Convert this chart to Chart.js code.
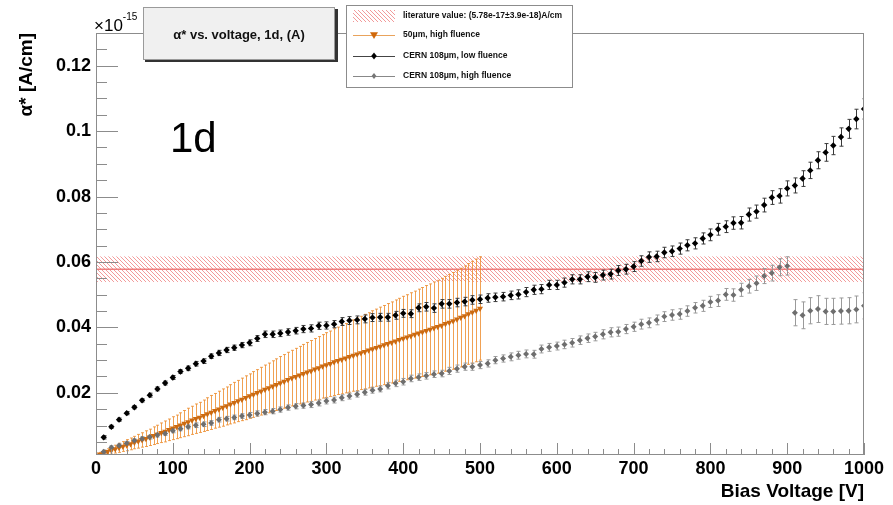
<!DOCTYPE html>
<html>
<head>
<meta charset="utf-8">
<script src="https://cdn.jsdelivr.net/npm/chart.js@4.4.0/dist/chart.umd.min.js"></script>
<style>
  html, body { margin: 0; padding: 0; background: #fff; }
  #wrap { width: 893px; height: 505px; }
</style>
</head>
<body>
<div id="wrap"><canvas id="alphaChart" width="893" height="505"></canvas></div>
<script>
// bias voltage points of the two CERN 108um sensors
const voltage = [10, 20, 30, 40, 50, 60, 70, 80, 90, 100,
  110, 120, 130, 140, 150, 160, 170, 180, 190, 200,
  210, 220, 230, 240, 250, 260, 270, 280, 290, 300,
  310, 320, 330, 340, 350, 360, 370, 380, 390, 400,
  410, 420, 430, 440, 450, 460, 470, 480, 490, 500,
  510, 520, 530, 540, 550, 560, 570, 580, 590, 600,
  610, 620, 630, 640, 650, 660, 670, 680, 690, 700,
  710, 720, 730, 740, 750, 760, 770, 780, 790, 800,
  810, 820, 830, 840, 850, 860, 870, 880, 890, 900,
  910, 920, 930, 940, 950, 960, 970, 980, 990, 1000];

// alpha* in units of 1e-15 A/cm
const lowFluence = [0.0064, 0.0096, 0.0118, 0.0138, 0.0156, 0.0177, 0.0193, 0.0212, 0.0230, 0.0247,
  0.0265, 0.0275, 0.0289, 0.0297, 0.0312, 0.0322, 0.0331, 0.0338, 0.0346, 0.0353,
  0.0366, 0.0379, 0.0379, 0.0382, 0.0386, 0.0390, 0.0395, 0.0397, 0.0405, 0.0406,
  0.0410, 0.0418, 0.0421, 0.0423, 0.0426, 0.0430, 0.0431, 0.0431, 0.0437, 0.0443,
  0.0442, 0.0460, 0.0463, 0.0459, 0.0472, 0.0472, 0.0476, 0.0479, 0.0484, 0.0486,
  0.0490, 0.0492, 0.0494, 0.0498, 0.0501, 0.0508, 0.0515, 0.0517, 0.0530, 0.0530,
  0.0537, 0.0547, 0.0547, 0.0555, 0.0553, 0.0560, 0.0563, 0.0574, 0.0578, 0.0586,
  0.0603, 0.0615, 0.0617, 0.0629, 0.0633, 0.0641, 0.0651, 0.0657, 0.0672, 0.0683,
  0.0700, 0.0708, 0.0719, 0.0720, 0.0745, 0.0754, 0.0774, 0.0797, 0.0802, 0.0825,
  0.0834, 0.0855, 0.0880, 0.0911, 0.0935, 0.0956, 0.0982, 0.1007, 0.1037, 0.1068];
const lowFluenceErr = [0.0005, 0.0005, 0.0005, 0.0005, 0.0005, 0.0005, 0.0006, 0.0006, 0.0006, 0.0006,
  0.0006, 0.0007, 0.0007, 0.0007, 0.0007, 0.0008, 0.0008, 0.0008, 0.0008, 0.0009,
  0.0009, 0.0010, 0.0010, 0.0010, 0.0010, 0.0010, 0.0011, 0.0011, 0.0011, 0.0011,
  0.0011, 0.0012, 0.0012, 0.0012, 0.0012, 0.0012, 0.0012, 0.0012, 0.0012, 0.0012,
  0.0012, 0.0012, 0.0013, 0.0013, 0.0013, 0.0013, 0.0013, 0.0013, 0.0013, 0.0013,
  0.0013, 0.0013, 0.0013, 0.0013, 0.0014, 0.0014, 0.0014, 0.0014, 0.0014, 0.0014,
  0.0014, 0.0014, 0.0014, 0.0015, 0.0015, 0.0015, 0.0015, 0.0015, 0.0015, 0.0015,
  0.0016, 0.0016, 0.0016, 0.0016, 0.0016, 0.0017, 0.0017, 0.0017, 0.0017, 0.0018,
  0.0018, 0.0018, 0.0019, 0.0019, 0.0020, 0.0020, 0.0021, 0.0021, 0.0022, 0.0023,
  0.0023, 0.0024, 0.0025, 0.0026, 0.0027, 0.0028, 0.0028, 0.0029, 0.0030, 0.0031];

const highFluence = [0.0020, 0.0033, 0.0039, 0.0046, 0.0054, 0.0060, 0.0065, 0.0071, 0.0076, 0.0084,
  0.0090, 0.0096, 0.0101, 0.0104, 0.0108, 0.0118, 0.0121, 0.0125, 0.0129, 0.0132,
  0.0137, 0.0141, 0.0144, 0.0149, 0.0155, 0.0159, 0.0161, 0.0164, 0.0169, 0.0175,
  0.0178, 0.0185, 0.0190, 0.0196, 0.0202, 0.0208, 0.0212, 0.0222, 0.0229, 0.0234,
  0.0244, 0.0248, 0.0252, 0.0257, 0.0259, 0.0267, 0.0274, 0.0280, 0.0280, 0.0285,
  0.0290, 0.0300, 0.0305, 0.0310, 0.0315, 0.0319, 0.0318, 0.0334, 0.0339, 0.0343,
  0.0348, 0.0353, 0.0361, 0.0367, 0.0372, 0.0379, 0.0385, 0.0387, 0.0395, 0.0402,
  0.0410, 0.0414, 0.0423, 0.0433, 0.0438, 0.0441, 0.0450, 0.0460, 0.0466, 0.0478,
  0.0482, 0.0501, 0.0499, 0.0515, 0.0526, 0.0535, 0.0557, 0.0566, 0.0584, 0.0588,
  0.0445, 0.0437, 0.0451, 0.0456, 0.0449, 0.0449, 0.0450, 0.0451, 0.0455, 0.0466];
const highFluenceErr = [0.0005, 0.0005, 0.0005, 0.0005, 0.0005, 0.0006, 0.0006, 0.0006, 0.0006, 0.0006,
  0.0006, 0.0006, 0.0007, 0.0007, 0.0007, 0.0007, 0.0007, 0.0007, 0.0007, 0.0008,
  0.0008, 0.0008, 0.0008, 0.0008, 0.0008, 0.0008, 0.0008, 0.0009, 0.0009, 0.0009,
  0.0009, 0.0009, 0.0009, 0.0009, 0.0009, 0.0009, 0.0009, 0.0010, 0.0010, 0.0010,
  0.0010, 0.0010, 0.0010, 0.0010, 0.0010, 0.0011, 0.0011, 0.0011, 0.0011, 0.0011,
  0.0011, 0.0011, 0.0011, 0.0012, 0.0012, 0.0012, 0.0012, 0.0012, 0.0012, 0.0012,
  0.0013, 0.0013, 0.0013, 0.0013, 0.0013, 0.0014, 0.0014, 0.0014, 0.0014, 0.0014,
  0.0015, 0.0015, 0.0015, 0.0015, 0.0016, 0.0016, 0.0016, 0.0016, 0.0017, 0.0017,
  0.0018, 0.0018, 0.0019, 0.0020, 0.0021, 0.0022, 0.0023, 0.0024, 0.0026, 0.0028,
  0.0040, 0.0041, 0.0040, 0.0041, 0.0040, 0.0040, 0.0040, 0.0040, 0.0041, 0.0040];

// 50um sensor, 5 V steps up to 500 V
const voltage50 = [5, 10, 15, 20, 25, 30, 35, 40, 45, 50,
  55, 60, 65, 70, 75, 80, 85, 90, 95, 100,
  105, 110, 115, 120, 125, 130, 135, 140, 145, 150,
  155, 160, 165, 170, 175, 180, 185, 190, 195, 200,
  205, 210, 215, 220, 225, 230, 235, 240, 245, 250,
  255, 260, 265, 270, 275, 280, 285, 290, 295, 300,
  305, 310, 315, 320, 325, 330, 335, 340, 345, 350,
  355, 360, 365, 370, 375, 380, 385, 390, 395, 400,
  405, 410, 415, 420, 425, 430, 435, 440, 445, 450,
  455, 460, 465, 470, 475, 480, 485, 490, 495, 500];
const thin50 = [0.0012, 0.0016, 0.0020, 0.0024, 0.0028, 0.0032, 0.0036, 0.0040, 0.0044, 0.0048,
  0.0052, 0.0056, 0.0060, 0.0064, 0.0069, 0.0073, 0.0078, 0.0082, 0.0087, 0.0092,
  0.0096, 0.0101, 0.0106, 0.0111, 0.0116, 0.0121, 0.0125, 0.0130, 0.0135, 0.0140,
  0.0145, 0.0150, 0.0155, 0.0160, 0.0165, 0.0170, 0.0175, 0.0180, 0.0185, 0.0190,
  0.0195, 0.0200, 0.0205, 0.0210, 0.0215, 0.0220, 0.0225, 0.0230, 0.0235, 0.0240,
  0.0245, 0.0249, 0.0254, 0.0258, 0.0263, 0.0267, 0.0272, 0.0276, 0.0281, 0.0285,
  0.0289, 0.0294, 0.0298, 0.0302, 0.0306, 0.0310, 0.0314, 0.0318, 0.0322, 0.0326,
  0.0330, 0.0334, 0.0338, 0.0342, 0.0346, 0.0350, 0.0354, 0.0358, 0.0362, 0.0366,
  0.0370, 0.0374, 0.0378, 0.0382, 0.0386, 0.0390, 0.0394, 0.0398, 0.0402, 0.0406,
  0.0411, 0.0415, 0.0420, 0.0425, 0.0430, 0.0435, 0.0441, 0.0446, 0.0452, 0.0458];
const thin50Err = [0.0006, 0.0008, 0.0009, 0.0011, 0.0012, 0.0014, 0.0015, 0.0017, 0.0018, 0.0019,
  0.0021, 0.0022, 0.0024, 0.0025, 0.0027, 0.0028, 0.0030, 0.0032, 0.0033, 0.0035,
  0.0036, 0.0038, 0.0040, 0.0042, 0.0043, 0.0045, 0.0046, 0.0048, 0.0050, 0.0052,
  0.0053, 0.0055, 0.0057, 0.0058, 0.0060, 0.0062, 0.0063, 0.0065, 0.0067, 0.0068,
  0.0070, 0.0071, 0.0073, 0.0075, 0.0076, 0.0078, 0.0079, 0.0081, 0.0082, 0.0084,
  0.0085, 0.0087, 0.0088, 0.0090, 0.0091, 0.0093, 0.0094, 0.0096, 0.0097, 0.0099,
  0.0100, 0.0102, 0.0103, 0.0105, 0.0106, 0.0108, 0.0109, 0.0111, 0.0112, 0.0114,
  0.0115, 0.0117, 0.0118, 0.0120, 0.0121, 0.0123, 0.0124, 0.0126, 0.0127, 0.0129,
  0.0130, 0.0132, 0.0133, 0.0135, 0.0136, 0.0138, 0.0139, 0.0141, 0.0142, 0.0144,
  0.0145, 0.0147, 0.0148, 0.0150, 0.0151, 0.0153, 0.0154, 0.0156, 0.0157, 0.0158];

// literature value (5.78e-17 +- 3.9e-18) A/cm
const litValue = 0.0578;
const litErr = 0.0039;

const xTicks = [0, 100, 200, 300, 400, 500, 600, 700, 800, 900, 1000];
const xTickLabels = ['0', '100', '200', '300', '400', '500', '600', '700', '800', '900', '1000'];
const yTicks = [0.02, 0.04, 0.06, 0.08, 0.1, 0.12];
const yTickLabels = ['0.02', '0.04', '0.06', '0.08', '0.1', '0.12'];

const FONT = '"Liberation Sans", Arial, Helvetica, sans-serif';

// hatched fill for the literature band
const hatchTile = document.createElement('canvas');
hatchTile.width = 4; hatchTile.height = 4;
(() => {
  const g = hatchTile.getContext('2d');
  g.strokeStyle = '#f29a9a';
  g.lineWidth = 1;
  g.beginPath();
  g.moveTo(0, 0); g.lineTo(4, 4);
  g.moveTo(-1, 3); g.lineTo(1, 5);
  g.moveTo(3, -1); g.lineTo(5, 1);
  g.stroke();
})();

const pts = (xs, ys) => xs.map((v, i) => ({ x: v, y: ys[i] }));

const bandAndErrors = {
  id: 'bandAndErrors',
  beforeDatasetsDraw(chart) {
    const { ctx, chartArea: a, scales: { x, y } } = chart;
    ctx.save();
    ctx.beginPath();
    ctx.rect(a.left, a.top, a.right - a.left, a.bottom - a.top);
    ctx.clip();

    const yTop = y.getPixelForValue(litValue + litErr);
    const yBot = y.getPixelForValue(litValue - litErr);
    ctx.fillStyle = ctx.createPattern(hatchTile, 'repeat');
    ctx.fillRect(x.getPixelForValue(0), yTop, x.getPixelForValue(1000) - x.getPixelForValue(0), yBot - yTop);
    ctx.strokeStyle = '#ee7d7d';
    ctx.lineWidth = 1.5;
    ctx.beginPath();
    const yl = y.getPixelForValue(litValue);
    ctx.moveTo(x.getPixelForValue(0), yl);
    ctx.lineTo(x.getPixelForValue(1000), yl);
    ctx.stroke();

    // draw bars from the back dataset to the front one
    [...chart.data.datasets].reverse().forEach(ds => {
      if (!ds.errors) return;
      ctx.strokeStyle = ds.errColor;
      ctx.lineWidth = 1;
      ds.data.forEach((p, i) => {
        const e = ds.errors[i];
        const px = Math.round(x.getPixelForValue(p.x)) + 0.5;
        const y1 = y.getPixelForValue(p.y + e);
        const y2 = y.getPixelForValue(p.y - e);
        ctx.beginPath();
        ctx.moveTo(px, y1); ctx.lineTo(px, y2);
        ctx.moveTo(px - ds.cap, y1); ctx.lineTo(px + ds.cap, y1);
        ctx.moveTo(px - ds.cap, y2); ctx.lineTo(px + ds.cap, y2);
        ctx.stroke();
      });
    });
    ctx.restore();
  }
};

function marker(ctx, style, cx, cy, r, color) {
  ctx.fillStyle = color;
  ctx.beginPath();
  if (style === 'tri') {
    ctx.moveTo(cx - r, cy - r * 0.7);
    ctx.lineTo(cx + r, cy - r * 0.7);
    ctx.lineTo(cx, cy + r);
  } else {
    ctx.moveTo(cx, cy - r); ctx.lineTo(cx + r * 0.8, cy);
    ctx.lineTo(cx, cy + r); ctx.lineTo(cx - r * 0.8, cy);
  }
  ctx.closePath();
  ctx.fill();
}

const frameAndText = {
  id: 'frameAndText',
  afterDraw(chart) {
    const { ctx, chartArea: a, scales: { x, y } } = chart;
    ctx.save();

    // frame + ROOT style inner ticks
    ctx.strokeStyle = '#8c8c8c';
    ctx.lineWidth = 1;
    ctx.strokeRect(a.left + 0.5, a.top + 0.5, a.right - a.left - 1, a.bottom - a.top - 1);
    ctx.beginPath();
    for (let v = 0; v <= 1000; v += 20) {
      const px = Math.round(x.getPixelForValue(v)) + 0.5;
      const len = v % 100 === 0 ? 12 : 6;
      ctx.moveTo(px, a.bottom); ctx.lineTo(px, a.bottom - len);
    }
    for (let k = 1; k <= 25; k++) {
      const py = Math.round(y.getPixelForValue(k * 0.005)) + 0.5;
      const len = k % 4 === 0 ? 22 : 11;
      ctx.moveTo(a.left, py); ctx.lineTo(a.left + len, py);
    }
    ctx.stroke();

    // axis titles
    ctx.fillStyle = '#000';
    ctx.font = 'bold 19px ' + FONT;
    ctx.textAlign = 'right';
    ctx.textBaseline = 'middle';
    ctx.fillText('Bias Voltage [V]', a.right, 492);
    ctx.save();
    ctx.translate(27, a.top);
    ctx.rotate(-Math.PI / 2);
    ctx.fillText('\u03b1* [A/cm]', 0, 0);
    ctx.restore();

    // exponent
    ctx.textAlign = 'left';
    ctx.textBaseline = 'alphabetic';
    ctx.font = '17px ' + FONT;
    ctx.fillText('\u00d710', 94, 31);
    const w = ctx.measureText('\u00d710').width;
    ctx.font = '10px ' + FONT;
    ctx.fillText('-15', 94 + w, 20);

    // "1d" label
    ctx.font = '42px ' + FONT;
    ctx.fillText('1d', 170, 152);

    // title box with shadow
    ctx.fillStyle = '#333';
    ctx.fillRect(145, 9, 193, 53);
    ctx.fillStyle = '#f0f0f0';
    ctx.fillRect(143, 7, 192, 53);
    ctx.strokeStyle = '#9a9a9a';
    ctx.strokeRect(143.5, 7.5, 191, 52);
    ctx.fillStyle = '#111';
    ctx.font = 'bold 13px ' + FONT;
    ctx.textAlign = 'center';
    ctx.textBaseline = 'middle';
    ctx.fillText('\u03b1* vs. voltage, 1d, (A)', 239, 35);

    // legend
    const lx = 346, ly = 5, lw = 226, lh = 82;
    ctx.fillStyle = '#fff';
    ctx.fillRect(lx, ly, lw, lh);
    ctx.strokeStyle = '#8c8c8c';
    ctx.strokeRect(lx + 0.5, ly + 0.5, lw, lh);
    ctx.fillStyle = ctx.createPattern(hatchTile, 'repeat');
    ctx.fillRect(353, 10, 42, 12);
    const rows = [
      { y: 35, color: '#d0680a', line: '#e9a35c', style: 'tri', r: 4, label: '50\u03bcm, high fluence' },
      { y: 56, color: '#000', line: '#444', style: 'dia', r: 3.5, label: 'CERN 108\u03bcm, low fluence' },
      { y: 76, color: '#777', line: '#888', style: 'dia', r: 3, label: 'CERN 108\u03bcm, high fluence' }
    ];
    rows.forEach(r => {
      ctx.strokeStyle = r.line;
      ctx.lineWidth = 1;
      ctx.beginPath();
      ctx.moveTo(353, r.y + 0.5); ctx.lineTo(395, r.y + 0.5);
      ctx.stroke();
      marker(ctx, r.style, 374, r.y, r.r, r.color);
    });
    ctx.fillStyle = '#111';
    ctx.font = 'bold 8.5px ' + FONT;
    ctx.textAlign = 'left';
    ctx.textBaseline = 'middle';
    ctx.fillText('literature value: (5.78e-17\u00b13.9e-18)A/cm', 403, 16);
    rows.forEach(r => ctx.fillText(r.label, 403, r.y));

    ctx.restore();
  }
};

const ctx = document.getElementById('alphaChart').getContext('2d');
const chart = new Chart(ctx, {
  type: 'scatter',
  data: {
    datasets: [
      {
        label: 'CERN 108\u03bcm, low fluence',
        data: pts(voltage, lowFluence),
        errors: lowFluenceErr, errColor: '#3a3a3a', cap: 2,
        pointStyle: 'rectRot', pointRadius: 3.2, pointBorderWidth: 0,
        backgroundColor: '#000', borderColor: '#000'
      },
      {
        label: 'CERN 108\u03bcm, high fluence',
        data: pts(voltage, highFluence),
        errors: highFluenceErr, errColor: '#9a9a9a', cap: 2,
        pointStyle: 'rectRot', pointRadius: 3, pointBorderWidth: 0,
        backgroundColor: '#6e6e6e', borderColor: '#6e6e6e'
      },
      {
        label: '50\u03bcm, high fluence',
        data: pts(voltage50, thin50),
        errors: thin50Err, errColor: 'rgba(236, 138, 40, 0.8)', cap: 1.5,
        pointStyle: 'triangle', rotation: 180, pointRadius: 3.5, pointBorderWidth: 0,
        backgroundColor: '#cc6a10', borderColor: '#cc6a10'
      }
    ]
  },
  options: {
    responsive: false,
    animation: false,
    devicePixelRatio: 1,
    layout: { padding: { left: 0, top: 33, right: 29, bottom: 0 } },
    plugins: {
      legend: { display: false },
      title: { display: false },
      tooltip: { enabled: false }
    },
    scales: {
      x: {
        type: 'linear', min: 0, max: 1000,
        grid: { display: false, drawTicks: false },
        border: { display: false },
        afterFit: s => { s.height = 50; },
        afterBuildTicks: s => { s.ticks = xTicks.map(v => ({ value: v })); },
        ticks: {
          padding: 3, color: '#000', autoSkip: false, maxRotation: 0,
          font: { family: FONT, size: 18, weight: 'bold' },
          callback: (v, i) => xTickLabels[i]
        }
      },
      y: {
        type: 'linear', min: 0.001, max: 0.13,
        grid: { display: false, drawTicks: false },
        border: { display: false },
        afterFit: s => { s.width = 96; },
        afterBuildTicks: s => { s.ticks = yTicks.map(v => ({ value: v })); },
        ticks: {
          padding: 5, color: '#000', autoSkip: false,
          font: { family: FONT, size: 18, weight: 'bold' },
          callback: (v, i) => yTickLabels[i]
        }
      }
    }
  },
  plugins: [bandAndErrors, frameAndText]
});
</script>
</body>
</html>
